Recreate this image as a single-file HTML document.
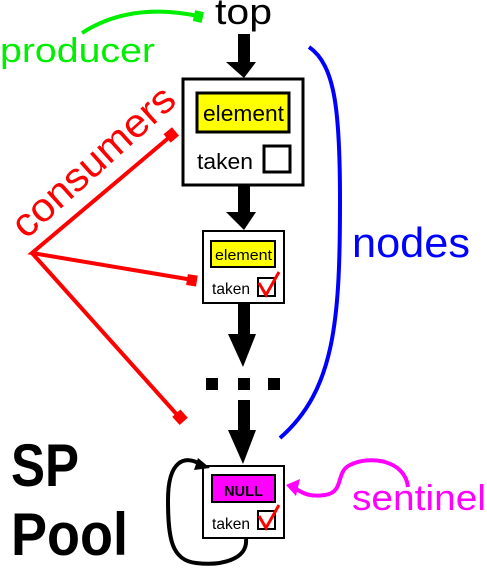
<!DOCTYPE html>
<html><head><meta charset="utf-8"><style>html,body{margin:0;padding:0;background:#fff}svg{display:block}</style></head><body>
<svg width="487" height="568" viewBox="0 0 487 568" xmlns="http://www.w3.org/2000/svg" font-family="Liberation Sans, sans-serif">
<!-- top -->
<text x="215" y="24" font-size="36" textLength="57" lengthAdjust="spacingAndGlyphs">top</text>
<!-- producer -->
<text x="0" y="62" font-size="34" fill="#00ee00" textLength="155" lengthAdjust="spacingAndGlyphs">producer</text>
<path d="M82,33 Q130,2 198,16" fill="none" stroke="#00ee00" stroke-width="4"/>
<rect x="194" y="11" width="9" height="11" fill="#00ee00" transform="rotate(12 198 16)"/>
<!-- arrows -->
<g fill="#000">
<rect x="238" y="34" width="12" height="30"/><polygon points="226,62 256,62 244,78"/>
<rect x="238" y="186" width="12" height="28"/><polygon points="226,212 256,212 244,230"/>
<rect x="238" y="304" width="12" height="32"/><polygon points="228,334 256,334 243,367"/>
<rect x="238" y="400" width="12" height="32"/><polygon points="228,430 256,430 243,464"/>
<rect x="206" y="378" width="12" height="12"/><rect x="238" y="378" width="12" height="12"/><rect x="268" y="378" width="12" height="12"/>
</g>
<!-- box1 -->
<rect x="183" y="79" width="120" height="106" fill="#fff" stroke="#000" stroke-width="3"/>
<rect x="197" y="93" width="92" height="39" fill="#ffff00" stroke="#000" stroke-width="3"/>
<text x="203" y="121" font-size="22" textLength="81" lengthAdjust="spacingAndGlyphs">element</text>
<text x="197" y="169" font-size="22" textLength="56" lengthAdjust="spacingAndGlyphs">taken</text>
<rect x="264" y="146" width="26" height="26" fill="#fff" stroke="#000" stroke-width="3"/>
<!-- box2 -->
<rect x="203" y="231" width="81" height="72" fill="#fff" stroke="#000" stroke-width="2"/>
<rect x="211" y="241" width="64" height="26" fill="#ffff00" stroke="#000" stroke-width="2"/>
<text x="215" y="260" font-size="15" textLength="57" lengthAdjust="spacingAndGlyphs">element</text>
<text x="212" y="294" font-size="16" textLength="38" lengthAdjust="spacingAndGlyphs">taken</text>
<rect x="258" y="278" width="17" height="18" fill="#fff" stroke="#000" stroke-width="2"/>
<path d="M259,283 L266,295 L279,272" fill="none" stroke="#f00" stroke-width="3"/>
<!-- box3 -->
<rect x="203" y="466" width="81" height="72" fill="#fff" stroke="#000" stroke-width="2"/>
<rect x="212" y="475" width="63" height="27" fill="#ff00ff" stroke="#000" stroke-width="2"/>
<text x="224" y="496" font-size="15" font-weight="bold" textLength="39" lengthAdjust="spacingAndGlyphs">NULL</text>
<text x="212" y="529" font-size="16" textLength="38" lengthAdjust="spacingAndGlyphs">taken</text>
<rect x="258" y="511" width="17" height="18" fill="#fff" stroke="#000" stroke-width="2"/>
<path d="M259,516 L266,528 L279,505" fill="none" stroke="#f00" stroke-width="3"/>
<!-- self loop -->
<path d="M246,539 C248,560 220,566 196,563 C172,560 168,540 168,500 C168,460 185,455 200,464" fill="none" stroke="#000" stroke-width="4"/>
<polygon points="210,468 194,470 198,458" fill="#000"/>
<!-- blue -->
<path d="M309,47 C335,65 340,110 340,200 C340,320 335,390 280,438" fill="none" stroke="#0000ff" stroke-width="4"/>
<text x="352" y="257" font-size="42" fill="#0000ff" textLength="118" lengthAdjust="spacingAndGlyphs">nodes</text>
<!-- red -->
<g stroke="#f00" stroke-width="4" fill="none">
<path d="M172,135 L32,253 L193,280"/><path d="M32,253 L180,418"/>
</g>
<g fill="#f00">
<rect x="166" y="129" width="11" height="11" transform="rotate(-40 172 135)"/>
<rect x="187" y="275" width="10" height="11" transform="rotate(9 193 280)"/>
<rect x="174" y="412" width="11" height="11" transform="rotate(48 180 418)"/>
</g>
<text x="0" y="0" font-size="40" fill="#f00" textLength="205" lengthAdjust="spacingAndGlyphs" transform="translate(26,240) rotate(-42)">consumers</text>
<!-- magenta -->
<path d="M408,487 C405,460 370,455 350,465 C335,472 345,492 325,495 C305,498 300,490 292,487" fill="none" stroke="#ff00ff" stroke-width="4"/>
<polygon points="286,485 300,479 296,496" fill="#ff00ff"/>
<text x="352" y="510" font-size="36" fill="#ff00ff" textLength="134" lengthAdjust="spacingAndGlyphs">sentinel</text>
<!-- SP Pool -->
<text x="11" y="486" font-size="60" font-weight="bold" textLength="68" lengthAdjust="spacingAndGlyphs">SP</text>
<text x="11" y="555" font-size="60" font-weight="bold" textLength="117" lengthAdjust="spacingAndGlyphs">Pool</text>
</svg>
</body></html>
